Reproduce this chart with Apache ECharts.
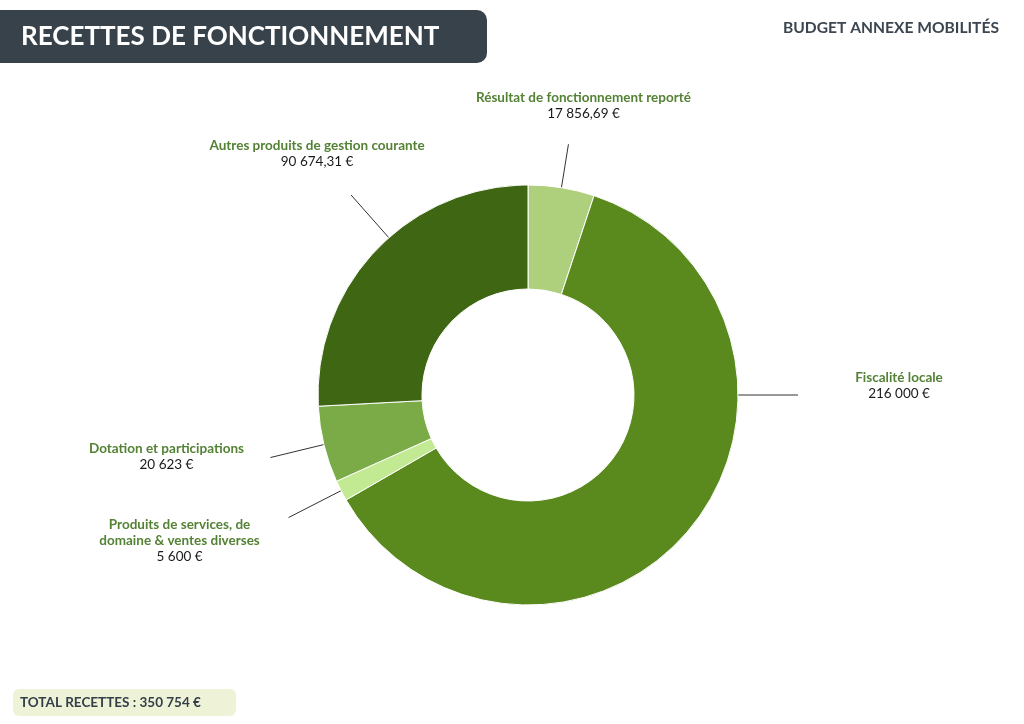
<!DOCTYPE html>
<html>
<head>
<meta charset="utf-8">
<script src="https://cdn.jsdelivr.net/npm/echarts@6/dist/echarts.min.js"></script>
<style>
  html, body { margin: 0; padding: 0; background: #fff; }
  #chart { width: 1024px; height: 724px; }
</style>
</head>
<body>
<div id="chart"></div>
<script>
// data, clockwise from 12 o'clock
const categories = [
  'Résultat de fonctionnement reporté',
  'Fiscalité locale',
  'Produits de services, de\ndomaine & ventes diverses',
  'Dotation et participations',
  'Autres produits de gestion courante'
];
const amounts = [17856.69, 216000, 5600, 20623, 90674.31];
const sliceColors = ['#aed07c', '#5a8a1e', '#c2ea93', '#7aab46', '#3f6612'];

const FONT = 'Lato, "Open Sans", sans-serif';
const CX = 528, CY = 395, R_IN = 106, R_OUT = 210;

// leader line setup per slice: angle override (deg from top, clockwise), end radius, label offset from line end
const leaders = [
  { angle: null, r: 254, dx: 15, dy: -39 },
  { angle: 90, r: 270, dx: 101, dy: -9 },
  { angle: null, r: 269, dx: -109, dy: 23 },
  { angle: null, r: 265, dx: -104, dy: -1 },
  { angle: 318.5, r: 267, dx: -34, dy: -41 }
];

const fmtEuro = v => {
  const parts = v.toFixed(2).split('.');
  const int = parts[0].replace(/\B(?=(\d{3})+(?!\d))/g, ' ');
  return (parts[1] === '00' ? int : int + ',' + parts[1]) + ' €';
};

const total = amounts.reduce((a, b) => a + b, 0);
const midAngles = [];
let acc = 0;
amounts.forEach(v => {
  midAngles.push((acc + v / 2) / total * 360);
  acc += v;
});

const polar = (deg, r) => {
  const a = deg * Math.PI / 180;
  return [CX + r * Math.sin(a), CY - r * Math.cos(a)];
};

const chart = echarts.init(document.getElementById('chart'), null, { renderer: 'canvas' });

chart.setOption({
  backgroundColor: '#ffffff',
  animation: false,
  graphic: [
    {
      type: 'rect',
      shape: { x: 0, y: 10, width: 487, height: 53, r: [0, 10, 10, 0] },
      style: { fill: '#37424a' }
    },
    {
      type: 'text',
      x: 21, y: 37,
      style: {
        text: 'RECETTES DE FONCTIONNEMENT',
        fill: '#ffffff', font: 'bold 26px ' + FONT,
        verticalAlign: 'middle'
      }
    },
    {
      type: 'text',
      x: 999, y: 28,
      style: {
        text: 'BUDGET ANNEXE MOBILITÉS',
        fill: '#3b4650', font: 'bold 15.6px ' + FONT,
        align: 'right', verticalAlign: 'middle'
      }
    },
    {
      type: 'rect',
      shape: { x: 13, y: 689, width: 223, height: 27, r: 6 },
      style: { fill: '#eef3d8' }
    },
    {
      type: 'text',
      x: 20, y: 703,
      style: {
        text: 'TOTAL RECETTES : ' + fmtEuro(Math.round(total)),
        fill: '#333f48', font: 'bold 13.5px ' + FONT,
        verticalAlign: 'middle'
      }
    }
  ],
  series: [{
    type: 'pie',
    center: [CX, CY],
    radius: [R_IN, R_OUT],
    startAngle: 90,
    clockwise: true,
    avoidLabelOverlap: false,
    itemStyle: { borderColor: '#ffffff', borderWidth: 1 },
    label: {
      show: true,
      position: 'outside',
      formatter: p => p.name.split('\n').map(l => '{n|' + l + '}').join('\n') + '\n{v|' + fmtEuro(p.value) + '}',
      rich: {
        n: { fontFamily: FONT, fontWeight: 'bold', fontSize: 13.5, color: '#548235', lineHeight: 16, align: 'center' },
        v: { fontFamily: FONT, fontSize: 13.5, color: '#1a1a1a', lineHeight: 16, align: 'center' }
      }
    },
    labelLine: { show: true, smooth: false, lineStyle: { color: '#333333', width: 1 } },
    labelLayout: params => {
      const i = params.dataIndex;
      const L = leaders[i];
      const ang = L.angle === null ? midAngles[i] : L.angle;
      const p0 = polar(ang, R_OUT);
      const p1 = polar(ang, L.r);
      return {
        x: p1[0] + L.dx,
        y: p1[1] + L.dy,
        align: 'center',
        verticalAlign: 'middle',
        labelLinePoints: [p0, p1, p1]
      };
    },
    data: categories.map((name, i) => ({
      name: name,
      value: amounts[i],
      itemStyle: { color: sliceColors[i] }
    }))
  }]
});
</script>
</body>
</html>
